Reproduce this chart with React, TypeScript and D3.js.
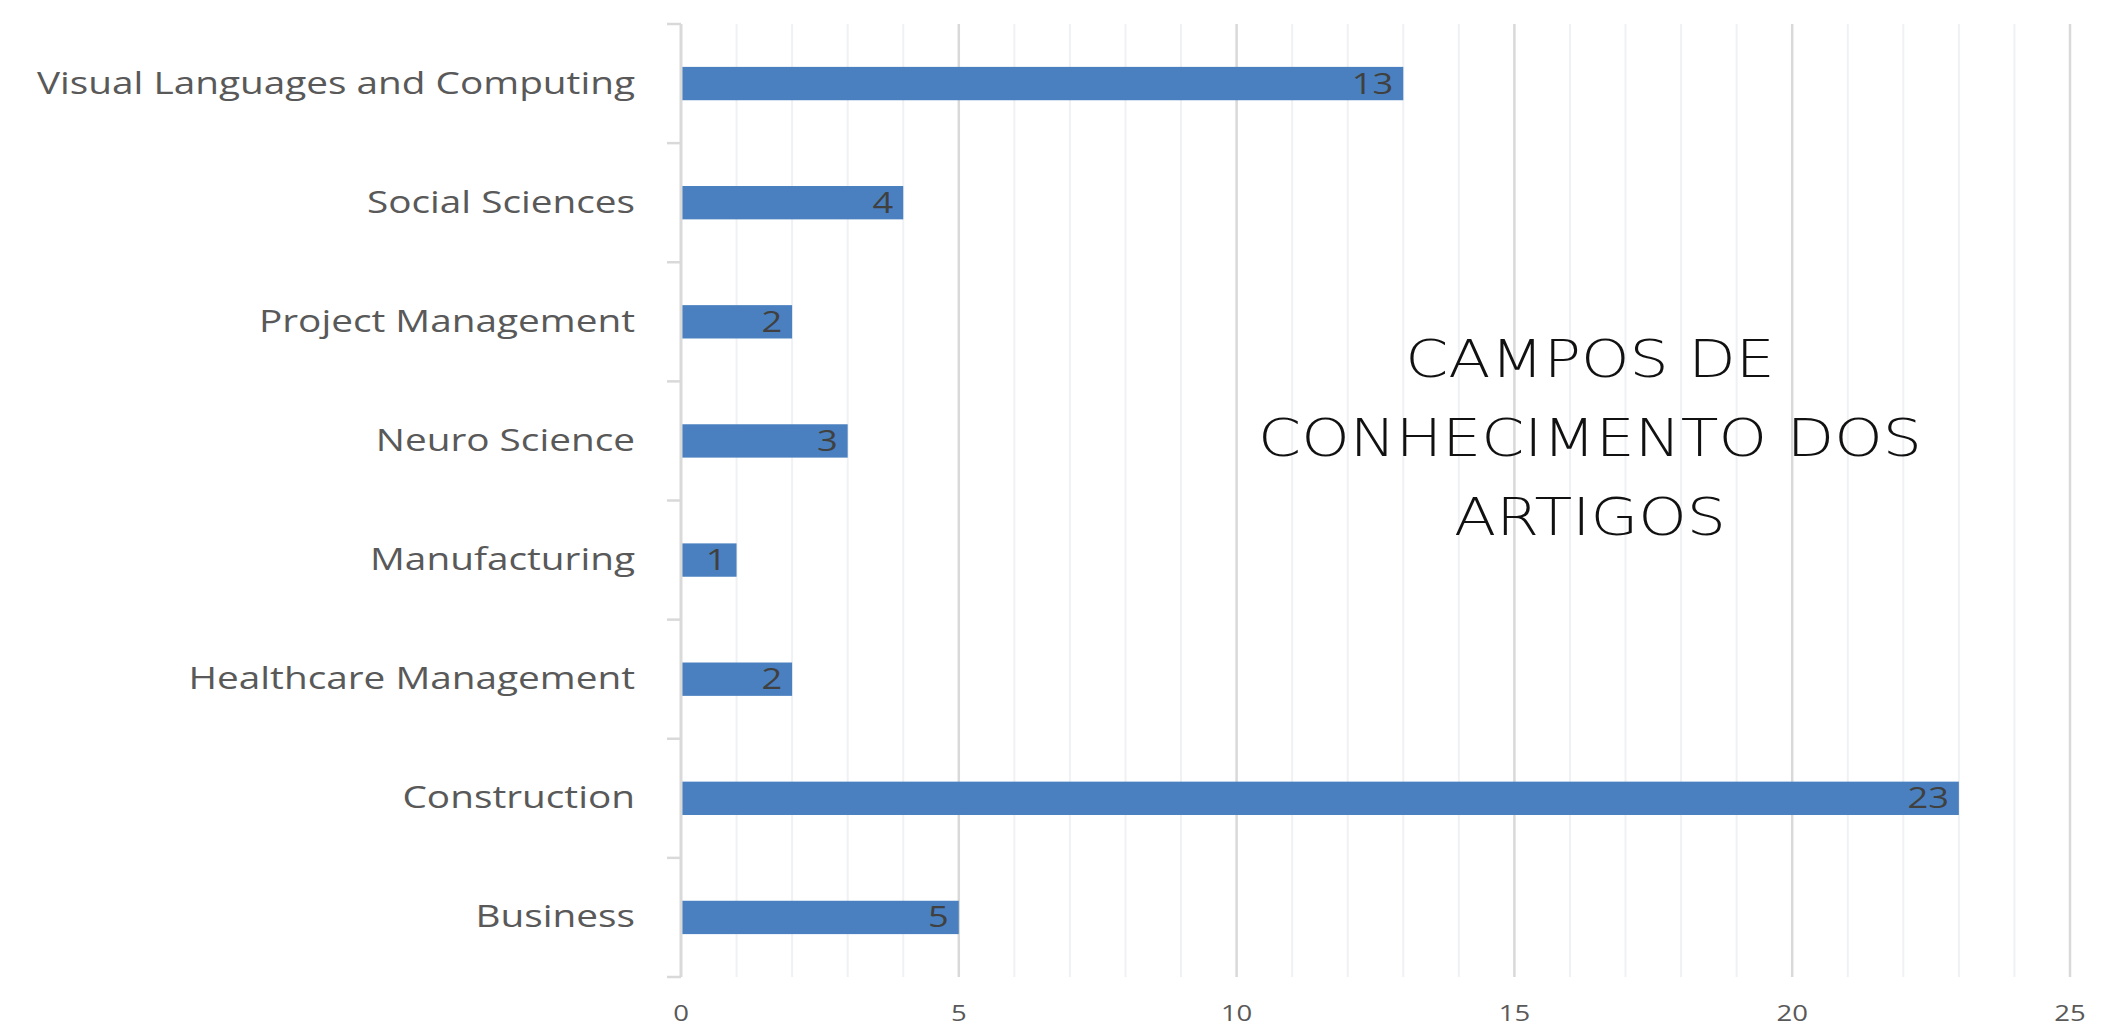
import * as d3 from 'd3';

const categories = [
  'Visual Languages and Computing',
  'Social Sciences',
  'Project Management',
  'Neuro Science',
  'Manufacturing',
  'Healthcare Management',
  'Construction',
  'Business',
];
const values = [13, 4, 2, 3, 1, 2, 23, 5];
const xTicks = [0, 5, 10, 15, 20, 25];
const titleLines = ['CAMPOS DE', 'CONHECIMENTO DOS', 'ARTIGOS'];

const W = 2112;
const H = 1027;
const left = 681;
const right = 2070;
const top = 24;
const bottom = 977;
const SX = 1.25; // the picture is stretched sideways

export default function App() {
  const x = d3.scaleLinear().domain([0, 25]).range([left, right]);
  const y = d3
    .scaleBand<string>()
    .domain(categories)
    .range([top, bottom])
    .paddingInner(0.72)
    .paddingOuter(0.36);

  const step = y.step();
  const minor = d3.range(0, 26).filter((d) => d % 5 !== 0);
  const boundaries = d3.range(0, categories.length + 1).map((i) => top + i * step);

  return (
    <svg
      width={W}
      height={H}
      style={{ position: 'absolute', left: 0, top: 0, background: '#fff' }}
    >
      {/* minor gridlines */}
      {minor.map((d) => (
        <line key={'m' + d} x1={x(d)} x2={x(d)} y1={top} y2={bottom} stroke="#f0f1f4" strokeWidth={2} />
      ))}
      {/* major gridlines */}
      {xTicks.slice(1).map((d) => (
        <line key={'M' + d} x1={x(d)} x2={x(d)} y1={top} y2={bottom} stroke="#d9d9d9" strokeWidth={2.5} />
      ))}

      {/* bars */}
      {categories.map((c, i) => (
        <rect
          key={c}
          x={x(0)}
          y={y(c)}
          width={x(values[i]) - x(0)}
          height={y.bandwidth()}
          fill="#4a80bf"
        />
      ))}

      {/* category axis */}
      <line x1={left} x2={left} y1={top} y2={bottom} stroke="#d9d9d9" strokeWidth={3} />
      {boundaries.map((b, i) => (
        <line key={'t' + i} x1={left - 14} x2={left} y1={b} y2={b} stroke="#d9d9d9" strokeWidth={2.5} />
      ))}

      {/* category labels */}
      {categories.map((c) => (
        <text
          key={'l' + c}
          transform={`translate(635,${(y(c) as number) + y.bandwidth() / 2 + 10}) scale(${SX},1)`}
          textAnchor="end"
          fontFamily="'Open Sans', sans-serif"
          fontSize={31}
          fill="#595959"
        >
          {c}
        </text>
      ))}

      {/* data labels */}
      {categories.map((c, i) => (
        <text
          key={'v' + c}
          transform={`translate(${x(values[i]) - 10},${(y(c) as number) + y.bandwidth() / 2 + 10}) scale(${SX},1)`}
          textAnchor="end"
          fontFamily="'Open Sans', sans-serif"
          fontSize={29}
          fill="#404040"
        >
          {values[i]}
        </text>
      ))}

      {/* value axis labels */}
      {xTicks.map((d) => (
        <text
          key={'x' + d}
          transform={`translate(${x(d)},1021) scale(${SX},1)`}
          textAnchor="middle"
          fontFamily="'Open Sans', sans-serif"
          fontSize={22}
          fill="#595959"
        >
          {d}
        </text>
      ))}

      {/* title */}
      {titleLines.map((t, i) => (
        <text
          key={'h' + i}
          transform={`translate(1590,${377 + i * 79}) scale(1.21,1)`}
          textAnchor="middle"
          fontFamily="'DejaVu Sans', sans-serif"
          fontWeight={200}
          fontSize={51}
          fill="#111"
        >
          {t}
        </text>
      ))}
    </svg>
  );
}
